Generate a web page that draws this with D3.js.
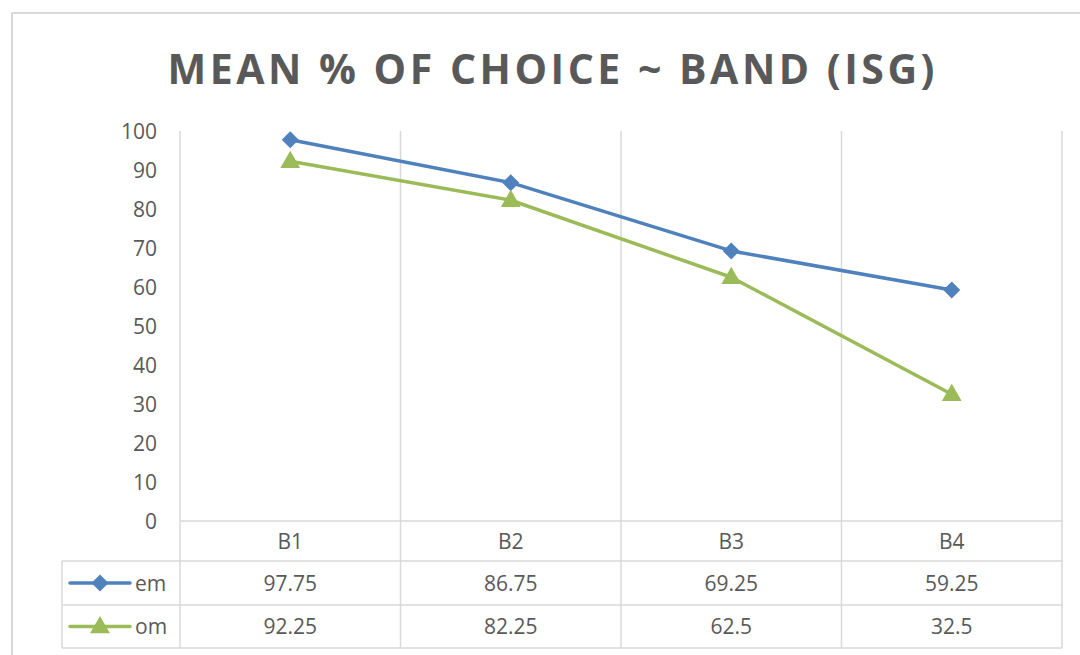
<!DOCTYPE html>
<html>
<head>
<meta charset="utf-8">
<script src="https://cdn.jsdelivr.net/npm/d3@7"></script>
<style>
  html, body { margin: 0; padding: 0; background: #ffffff; }
  svg { display: block; }
</style>
</head>
<body>
<svg id="chart" width="1080" height="655"></svg>
<script>
// Mean % of choice per band
const categories = ["B1", "B2", "B3", "B4"];
const emValues = [97.75, 86.75, 69.25, 59.25];
const omValues = [92.25, 82.25, 62.5, 32.5];
const yTicks = [0, 10, 20, 30, 40, 50, 60, 70, 80, 90, 100];
const seriesNames = ["em", "om"];
const titleText = "MEAN % OF CHOICE ~ BAND (ISG)";

// diamonds are squares turned 45 degrees
const series = [
  { name: seriesNames[0], values: emValues, color: "#4f81bd", symbol: d3.symbolSquare, rotate: 45, size: 145, shift: 0 },
  { name: seriesNames[1], values: omValues, color: "#9bbb59", symbol: d3.symbolTriangle, rotate: 0, size: 170, shift: 1 }
];

const W = 1080, H = 655;
const svg = d3.select("#chart");
const font = "'Open Sans', 'DejaVu Sans', sans-serif";
const textColor = "#595959";
const gridColor = "#d9d9d9";

// plot region
const plot = { left: 180, right: 1062, top: 131, bottom: 521 };
const tableLeft = 62;
const rows = [521, 561, 605, 648]; // header row, em row, om row boundaries

const x = d3.scaleBand().domain(categories).range([plot.left, plot.right]).padding(0);
const y = d3.scaleLinear().domain([0, 100]).range([plot.bottom, plot.top]);

// outer chart frame
svg.append("rect")
  .attr("x", 12).attr("y", 13)
  .attr("width", W + 20).attr("height", H + 20)
  .attr("fill", "#ffffff")
  .attr("stroke", gridColor).attr("stroke-width", 2);

// title, spaced out to its full width
const title = svg.append("text")
  .attr("x", 551).attr("y", 84)
  .attr("text-anchor", "middle")
  .attr("font-family", font)
  .attr("font-weight", "bold")
  .attr("font-size", 41)
  .attr("fill", textColor)
  .text(titleText);
{
  const targetWidth = 767;
  const natural = title.node().getComputedTextLength();
  const spacing = (targetWidth - natural) / (titleText.length - 1);
  title.attr("letter-spacing", spacing)
       .attr("x", 551 + spacing / 2);
}

const grid = svg.append("g").attr("stroke", gridColor).attr("stroke-width", 1.5);

// vertical band separators running through plot and data table
const edges = categories.map(c => x(c)).concat([x(categories[categories.length - 1]) + x.bandwidth()]);
edges.forEach(ex => {
  grid.append("line")
    .attr("x1", ex).attr("x2", ex)
    .attr("y1", plot.top).attr("y2", rows[3]);
});

// horizontal axis and table rules
grid.append("line").attr("x1", plot.left).attr("x2", plot.right).attr("y1", rows[0]).attr("y2", rows[0]);
[rows[1], rows[2], rows[3]].forEach(ry => {
  grid.append("line").attr("x1", tableLeft).attr("x2", plot.right).attr("y1", ry).attr("y2", ry);
});
grid.append("line").attr("x1", tableLeft).attr("x2", tableLeft).attr("y1", rows[1]).attr("y2", rows[3]);

// y axis labels
const yAxis = d3.axisLeft(y).tickValues(yTicks).tickSize(0).tickPadding(0);
const yG = svg.append("g").attr("transform", `translate(${157},0)`).call(yAxis);
yG.select(".domain").remove();
yG.selectAll("text")
  .attr("font-family", font)
  .attr("font-size", 21)
  .attr("fill", textColor)
  .attr("dy", "0.35em")
  .attr("x", 0);

// category header row
svg.append("g").selectAll("text").data(categories).join("text")
  .attr("x", d => x(d) + x.bandwidth() / 2)
  .attr("y", (rows[0] + rows[1]) / 2)
  .attr("dy", "0.36em")
  .attr("text-anchor", "middle")
  .attr("font-family", font).attr("font-size", 21)
  .attr("fill", textColor)
  .text(d => d);

// lines and markers
const line = d3.line()
  .x((d, i) => x(categories[i]) + x.bandwidth() / 2)
  .y(d => y(d));

series.forEach((s, si) => {
  svg.append("path")
    .datum(s.values)
    .attr("d", line)
    .attr("fill", "none")
    .attr("stroke", s.color)
    .attr("stroke-width", 3.5)
    .attr("stroke-linejoin", "round");

  svg.append("g").selectAll("path").data(s.values).join("path")
    .attr("transform", (d, i) => `translate(${x(categories[i]) + x.bandwidth() / 2},${y(d) + s.shift}) rotate(${s.rotate})`)
    .attr("d", d3.symbol().type(s.symbol).size(s.size))
    .attr("fill", s.color);

  // table row
  const rowTop = rows[si + 1], rowBottom = rows[si + 2];
  const cy = (rowTop + rowBottom) / 2;
  svg.append("g").selectAll("text").data(s.values).join("text")
    .attr("x", (d, i) => x(categories[i]) + x.bandwidth() / 2)
    .attr("y", cy)
    .attr("dy", "0.36em")
    .attr("text-anchor", "middle")
    .attr("font-family", font).attr("font-size", 21)
    .attr("fill", textColor)
    .text(d => d);

  // legend key in the row header
  svg.append("line")
    .attr("x1", 70).attr("x2", 130)
    .attr("y1", cy).attr("y2", cy)
    .attr("stroke", s.color).attr("stroke-width", 3.5)
    .attr("stroke-linecap", "round");
  svg.append("path")
    .attr("transform", `translate(100,${cy + s.shift}) rotate(${s.rotate})`)
    .attr("d", d3.symbol().type(s.symbol).size(s.size))
    .attr("fill", s.color);
  svg.append("text")
    .attr("x", 135).attr("y", cy)
    .attr("dy", "0.36em")
    .attr("font-family", font).attr("font-size", 21)
    .attr("fill", textColor)
    .text(s.name);
});
</script>
</body>
</html>
